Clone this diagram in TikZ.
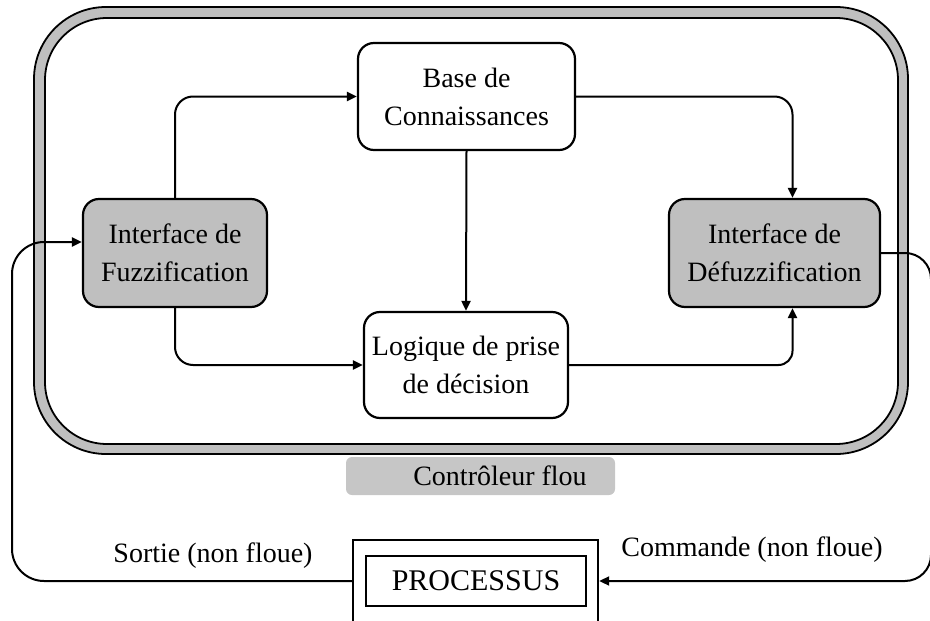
\documentclass[tikz,border=0pt]{standalone}
\usepackage{fontspec}
\setmainfont{Liberation Serif}
\usepackage{xcolor}
\usepackage{tikz}
\usetikzlibrary{arrows.meta}

\begin{document}
\begin{tikzpicture}[x=1pt, y=-1pt, font=\fontsize{28}{38}\selectfont,
  bloc/.style={draw, line width=2.2pt, rounded corners=16pt, align=center, inner sep=2pt},
  interface/.style={bloc, fill=gray!50},
  fleche/.style={line width=2pt, -{Triangle[length=10pt,width=9pt]}, rounded corners=18pt}]
\useasboundingbox (0,0) rectangle (930,621);
\draw[line width=1.8pt, fill=gray!50, rounded corners=72pt] (34,7) rectangle (908,454);
\draw[line width=1.8pt, fill=white, rounded corners=62pt] (45,18) rectangle (898,444);
\node[interface, minimum width=184pt, minimum height=108pt] (fuzz) at (175,253) {Interface de\\Fuzzification};
\node[bloc, minimum width=217pt, minimum height=107pt] (base) at (466.5,96.5) {Base de\\Connaissances};
\node[bloc, minimum width=204pt, minimum height=106pt] (logique) at (466,365) {Logique de prise\\de décision};
\node[interface, minimum width=211pt, minimum height=108pt] (defuzz) at (774.5,253) {Interface de\\Défuzzification};
\node[fill=gray!45, rounded corners=6pt, minimum width=269pt, minimum height=38pt] (fondctrl) at (480.5,476) {};
\node (ctrl) at (500,476) {Contrôleur flou};
\node[draw, line width=2.4pt, minimum width=245pt, minimum height=82pt] (proc) at (475.5,581) {};
\node[draw, line width=1.2pt, minimum width=220pt, minimum height=50pt, font=\fontsize{30}{34}\selectfont] (procin) at (476,581) {PROCESSUS};
\draw[fleche] (fuzz.north) |- (base.west);
\draw[fleche] (fuzz.south) |- (logique.west);
\draw[fleche] (base.east) -| ([xshift=18pt]defuzz.north);
\draw[fleche] (base.south) -- (logique.north);
\draw[fleche, rounded corners=14pt] (logique.east) -| ([xshift=18pt]defuzz.south);
\coordinate (coinD) at (931,581);
\coordinate (coinG) at (12,581);
\draw[fleche, rounded corners=26pt] (defuzz.east) -| (coinD) -- (proc.east);
\draw[fleche, rounded corners=32pt] (proc.west) -- (coinG) |- ([yshift=11pt]fuzz.west);
\node (sortie) at (213,556) {Sortie (non floue)};
\node (commande) at (752,550) {Commande (non floue)};
\end{tikzpicture}
\end{document}
